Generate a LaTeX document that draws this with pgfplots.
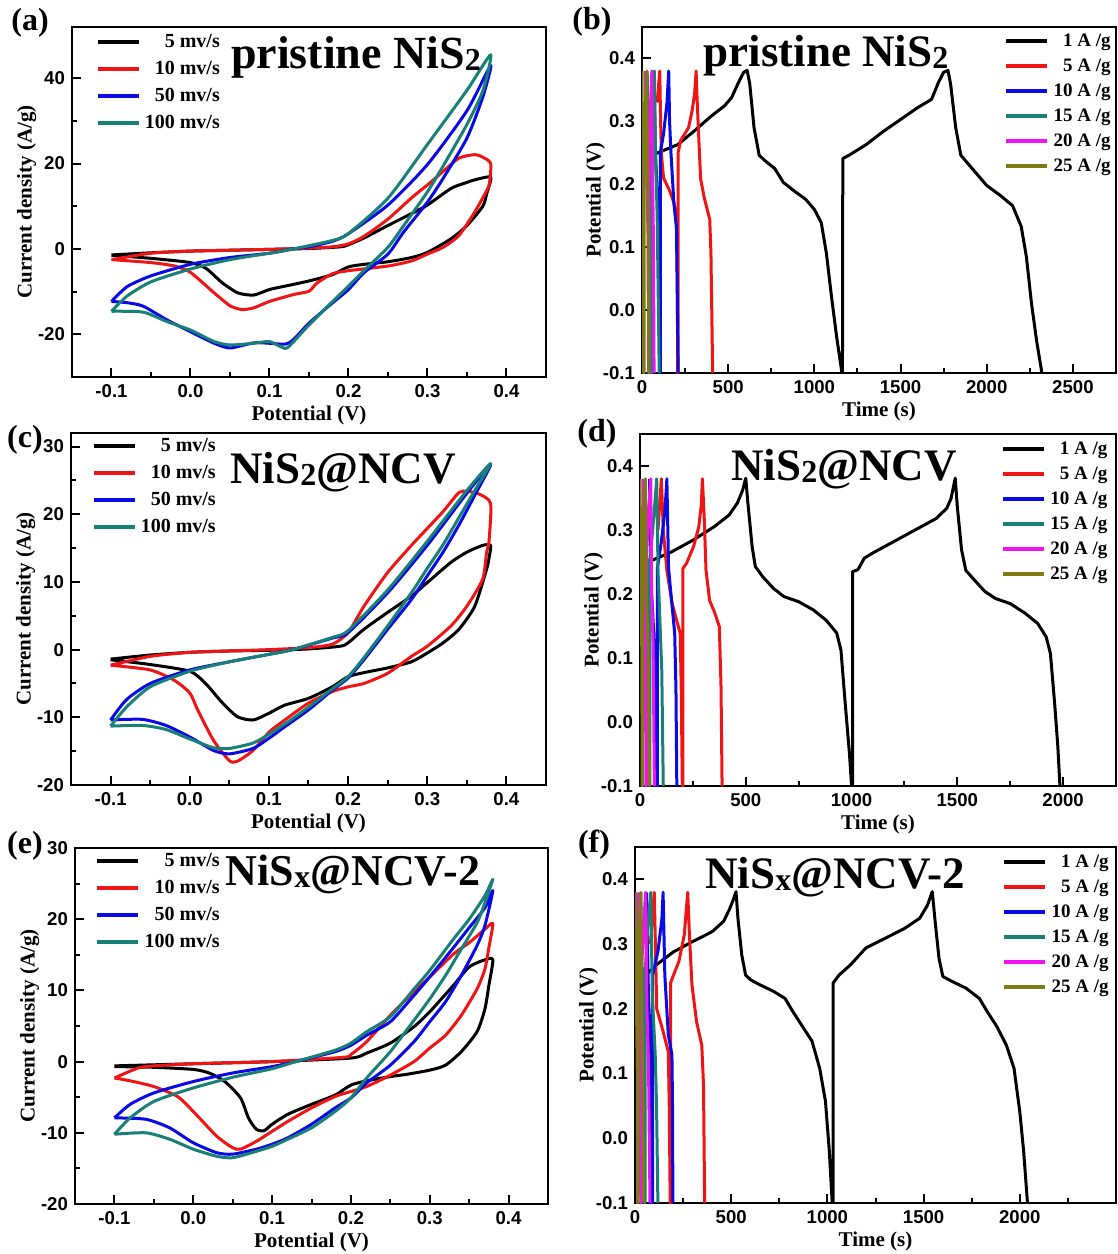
\documentclass[border=0pt]{standalone}
\usepackage{pgfplots}
\pgfplotsset{compat=1.18}
\usepackage{fontspec}
\setmainfont{Liberation Serif}
\newfontfamily\arial{Liberation Sans}
\definecolor{cR}{RGB}{240,20,20}
\definecolor{cB}{RGB}{10,10,230}
\definecolor{cT}{RGB}{25,128,120}
\definecolor{cM}{RGB}{240,20,240}
\definecolor{cO}{RGB}{128,122,20}
\pgfplotsset{
 base/.style={scale only axis, tick align=inside, tick pos=left,
   axis line style={line width=1.3pt}, major tick length=4.5pt, minor tick length=2.5pt,
   every tick/.append style={line width=1pt, black},
   tick label style={font=\arial\bfseries\fontsize{9.3}{10}\selectfont},
   label style={font=\bfseries\fontsize{10.5}{12}\selectfont},
   xlabel style={yshift=2.5pt},
   /pgf/number format/assume math mode=true,
   legend cell align=right,
   legend image code/.code={\draw[##1, line width=2.2pt] (0pt,0pt) -- (20.5pt,0pt);},
   every axis plot/.append style={line width=1.5pt, line join=round}},
 cv/.style={base, xmin=-0.15, xmax=0.45, xtick={-0.1,0,0.1,0.2,0.3,0.4}, minor x tick num=1,
   x tick label style={/pgf/number format/.cd, fixed, fixed zerofill, precision=1, /tikz/.cd},
   minor y tick num=1, xlabel={Potential (V)}, ylabel={Current density (A/g)},
   ylabel style={yshift=-6pt},
   every axis plot/.append style={smooth, tension=0.4},
   legend style={draw=none, fill=none, anchor=north west, font=\bfseries\fontsize{10}{12}\selectfont,
     inner sep=0pt, row sep=3pt, nodes={inner sep=0.5pt, text height=7.5pt, text depth=2pt},
     /tikz/every odd column/.append style={column sep=1.5pt}}},
 gcd/.style={base, xmin=0, ymin=-0.1, ymax=0.45, ytick={-0.1,0,0.1,0.2,0.3,0.4},
   y tick label style={/pgf/number format/.cd, fixed, fixed zerofill, precision=1, /tikz/.cd},
   x tick label style={/pgf/number format/.cd, 1000 sep={}, /tikz/.cd},
   xlabel={Time (s)}, ylabel={Potential (V)},
   ylabel style={yshift=-8pt},
   legend style={draw=none, fill=none, anchor=north east, font=\bfseries\fontsize{9.5}{11}\selectfont,
     inner sep=0pt, row sep=2pt, nodes={inner sep=0.5pt, text height=7.5pt, text depth=2pt},
     /tikz/every odd column/.append style={column sep=1.5pt}}}
}
\newcommand{\sub}[1]{\raisebox{-0.05em}{\fontsize{16}{16}\selectfont #1}}
\begin{document}
\begin{tikzpicture}
\path[use as bounding box] (0,0) rectangle (559pt,-627pt);
% ---------- (a)
\begin{axis}[cv, at={(36pt,-13.5pt)}, anchor=north west, width=237pt, height=175pt,
  ymin=-30, ymax=52, ytick={-20,0,20,40}, legend style={at={(0.0485,0.989)}}]
\addplot[black] coordinates {(-0.1,-1.4) (-0.05,-0.9) (0,-0.5) (0.05,-0.3) (0.1,-0.1) (0.15,0.1) (0.19,0.5) (0.2,1.0) (0.22,2.6) (0.25,5.5) (0.28,8.3) (0.3,10.3) (0.33,14.2) (0.35,15.6) (0.36,16.2) (0.38,16.8)
 (0.375,13) (0.37,10) (0.35,5.5) (0.33,2.4) (0.3,-0.8) (0.28,-2) (0.25,-3) (0.22,-3.6) (0.2,-4.2) (0.18,-6) (0.15,-7.5) (0.12,-8.7) (0.1,-9.5) (0.08,-10.8) (0.06,-10.3) (0.04,-7.9) (0.02,-4.6) (0,-3.2) (-0.05,-2.2) (-0.1,-1.5)};
\addplot[cR] coordinates {(-0.1,-2.5) (-0.05,-1.0) (0,-0.5) (0.05,-0.3) (0.1,-0.1) (0.15,0.2) (0.18,0.5) (0.2,1.2) (0.22,3) (0.25,7) (0.28,12) (0.3,15) (0.32,18.2) (0.34,21.3) (0.36,22.1) (0.37,21.5) (0.38,20)
 (0.378,15) (0.37,12) (0.36,8.7) (0.34,3.2) (0.32,0.4) (0.3,-1.2) (0.28,-2.8) (0.25,-4) (0.2,-5.1) (0.18,-5.8) (0.16,-8) (0.15,-9.9) (0.13,-10.7) (0.1,-12.3) (0.08,-13.8) (0.065,-14.2) (0.05,-13.3) (0.03,-10.3) (0,-5.5) (-0.02,-4) (-0.05,-3.2) (-0.1,-2.5)};
\addplot[cB] coordinates {(-0.1,-12.3) (-0.08,-8.8) (-0.05,-6.3) (0,-3.6) (0.05,-2) (0.1,-1) (0.13,0) (0.15,0.5) (0.18,1.8) (0.2,3.6) (0.25,10.3) (0.3,19.8) (0.35,32.4) (0.38,43)
 (0.37,35.6) (0.35,26) (0.32,16.6) (0.3,11) (0.27,4) (0.25,-1.2) (0.22,-5.5) (0.2,-9.5) (0.18,-12.6) (0.15,-17.4) (0.13,-21.3) (0.12,-22.3) (0.1,-22.1) (0.08,-22) (0.05,-23.2) (0.03,-22.1) (0,-19.4) (-0.03,-16.6) (-0.06,-13.4) (-0.08,-12.6) (-0.1,-12.3)};
\addplot[cT] coordinates {(-0.1,-14.6) (-0.08,-11) (-0.05,-7.7) (0,-4.7) (0.05,-2.5) (0.1,-1) (0.13,0) (0.18,2) (0.2,3.6) (0.25,11.9) (0.3,24.5) (0.35,37.2) (0.38,45.5)
 (0.37,37) (0.35,29.2) (0.32,19.5) (0.3,13.4) (0.27,5.5) (0.25,0.4) (0.22,-5) (0.2,-8.7) (0.18,-12.3) (0.15,-17.8) (0.13,-21.8) (0.12,-23.3) (0.1,-21.7) (0.08,-22.1) (0.05,-22.5) (0.03,-21.7) (0,-19) (-0.03,-17) (-0.06,-14.8) (-0.1,-14.6)};
\legend{5 mv/s,10 mv/s,50 mv/s,100 mv/s}
\end{axis}
% ---------- (b)
\begin{axis}[gcd, at={(321pt,-13.5pt)}, anchor=north west, width=237pt, height=173pt,
  xmax=2750, xtick={0,500,...,2500}, minor xtick={250,750,...,2750}, legend style={at={(0.9916,0.991)}}]
\addplot[black] coordinates {(83,0.249) (207,0.263) (300,0.284) (400,0.308) (480,0.325) (520,0.338) (560,0.362) (590,0.378) (610,0.381) (625,0.36) (650,0.29) (680,0.246) (720,0.236) (770,0.225) (820,0.203) (880,0.19) (950,0.176) (1000,0.16) (1040,0.139) (1070,0.09) (1100,0.02) (1130,-0.044) (1160,-0.1) (1163,-0.1) (1165,0.241) (1200,0.246) (1300,0.263) (1400,0.284) (1500,0.303) (1600,0.322) (1680,0.335) (1720,0.362) (1750,0.378) (1775,0.381) (1790,0.36) (1820,0.29) (1850,0.246) (1900,0.23) (1950,0.214) (2000,0.198) (2080,0.182) (2150,0.166) (2200,0.133) (2230,0.085) (2260,0.01) (2290,-0.05) (2320,-0.1)};
\addplot[cR] coordinates {(88,0.33) (103,0.38) (108,0.3) (112,0.25) (125,0.21) (160,0.19) (186,0.17) (200,0.145) (205,0.05) (207,-0.1) (209,-0.1) (209,0.25) (225,0.27) (270,0.29) (290,0.316) (305,0.343) (314,0.38) (320,0.333) (330,0.27) (340,0.209) (360,0.18) (393,0.144) (400,0.09) (410,-0.1)};
\addplot[cB] coordinates {(70,0.38) (78,0.25) (88,0.19) (98,0.15) (104,-0.1) (106,-0.1) (106,0.25) (125,0.28) (145,0.33) (155,0.38) (160,0.3) (168,0.25) (185,0.17) (200,0.13) (210,-0.1)};
\addplot[cT] coordinates {(30,0.38) (38,0.25) (48,0.15) (54,-0.1) (56,-0.1) (56,0.26) (65,0.32) (72,0.38) (78,0.25) (88,0.15) (100,-0.1)};
\addplot[cM] coordinates {(20,0.38) (27,0.22) (35,0.12) (38,-0.1) (40,-0.1) (40,0.26) (50,0.33) (57,0.38) (61,0.22) (66,0.12) (70,-0.1)};
\addplot[cO] coordinates {(0,0.38) (4,0.22) (8,0.12) (10,-0.1) (12,-0.1) (12,0.26) (20,0.33) (28,0.38) (32,0.22) (37,0.12) (40,-0.1)};
\legend{1 A /g,5 A /g,10 A /g,15 A /g,20 A /g,25 A /g}
\end{axis}
% ---------- (c)
\begin{axis}[cv, at={(35.5pt,-216.5pt)}, anchor=north west, width=237.5pt, height=176pt,
  ymin=-20, ymax=32, ytick={-20,-10,...,30}, legend style={at={(0.042,0.994)}}]
\addplot[black] coordinates {(-0.1,-1.4) (-0.05,-0.8) (0,-0.4) (0.05,-0.2) (0.1,-0.1) (0.15,0.1) (0.19,0.5) (0.2,1) (0.22,3) (0.25,5.5) (0.28,7.9) (0.3,9.9) (0.33,12.9) (0.35,14.4) (0.37,15.4) (0.38,15.4)
 (0.378,13.5) (0.375,11.9) (0.36,6.4) (0.34,3) (0.32,1) (0.3,-0.5) (0.28,-1.8) (0.25,-2.7) (0.22,-3.4) (0.2,-4) (0.18,-5.5) (0.15,-7.2) (0.12,-8.2) (0.1,-9.4) (0.08,-10.4) (0.06,-9.9) (0.04,-7.7) (0.02,-5) (0,-3.2) (-0.05,-2.2) (-0.1,-1.5)};
\addplot[cR] coordinates {(-0.1,-2.3) (-0.05,-1) (0,-0.4) (0.05,-0.2) (0.1,0) (0.15,0.3) (0.18,0.8) (0.2,2.5) (0.22,6.4) (0.25,11.4) (0.28,15.4) (0.3,17.9) (0.32,20.4) (0.34,23.2) (0.35,23.4) (0.365,23) (0.38,21.6)
 (0.378,16) (0.375,14.4) (0.37,10.4) (0.35,6.4) (0.33,3.5) (0.3,0.5) (0.28,-1) (0.25,-3.5) (0.22,-5) (0.2,-5.5) (0.18,-6.2) (0.15,-7.9) (0.12,-10.4) (0.1,-12.2) (0.08,-14.9) (0.06,-16.5) (0.05,-16.4) (0.03,-13.4) (0.01,-8.9) (0,-6.4) (-0.02,-4.5) (-0.05,-3) (-0.1,-2.3)};
\addplot[cB] coordinates {(-0.1,-10.4) (-0.08,-7.4) (-0.05,-5) (0,-3) (0.05,-1.8) (0.1,-0.7) (0.13,0) (0.18,1.7) (0.2,2.5) (0.25,8.4) (0.3,15.4) (0.35,23.1) (0.38,27.3)
 (0.36,22.8) (0.34,18.4) (0.32,14.4) (0.3,10.9) (0.28,7.4) (0.25,3) (0.22,-1.5) (0.2,-4.2) (0.18,-6) (0.15,-8.9) (0.12,-11.4) (0.1,-13.1) (0.08,-14.6) (0.05,-15.4) (0.03,-14.9) (0,-12.9) (-0.03,-11.2) (-0.06,-10.3) (-0.1,-10.4)};
\addplot[cT] coordinates {(-0.1,-11.3) (-0.08,-8.5) (-0.05,-5.5) (0,-3.2) (0.05,-1.8) (0.1,-0.7) (0.13,0) (0.18,1.8) (0.2,2.8) (0.25,8.8) (0.3,16) (0.35,23.5) (0.38,27.5)
 (0.36,23.5) (0.34,19.5) (0.32,15.5) (0.3,12) (0.28,8.4) (0.25,3.5) (0.22,-1.2) (0.2,-4) (0.18,-5.8) (0.15,-8.5) (0.12,-11) (0.1,-12.5) (0.08,-13.8) (0.05,-14.6) (0.03,-14.5) (0,-13.2) (-0.03,-11.8) (-0.06,-11.2) (-0.1,-11.3)};
\legend{5 mv/s,10 mv/s,50 mv/s,100 mv/s}
\end{axis}
% ---------- (d)
\begin{axis}[gcd, at={(320pt,-217pt)}, anchor=north west, width=238pt, height=176pt,
  xmax=2250, xtick={0,500,...,2000}, minor xtick={250,750,...,2250}, legend style={at={(0.985,0.989)}}]
\addplot[black] coordinates {(60,0.253) (150,0.266) (250,0.284) (350,0.305) (420,0.323) (460,0.342) (485,0.362) (500,0.381) (510,0.342) (530,0.274) (545,0.243) (580,0.227) (630,0.209) (680,0.196) (750,0.188) (820,0.175) (880,0.159) (930,0.139) (950,0.112) (970,0.029) (990,-0.049) (1000,-0.1) (1005,-0.1) (1005,0.235) (1030,0.238) (1060,0.256) (1100,0.264) (1200,0.282) (1300,0.3) (1400,0.318) (1450,0.334) (1470,0.349) (1490,0.381) (1500,0.336) (1520,0.269) (1540,0.237) (1580,0.222) (1630,0.204) (1680,0.193) (1750,0.185) (1820,0.17) (1880,0.154) (1920,0.133) (1940,0.107) (1960,0.029) (1975,-0.038) (1985,-0.1)};
\addplot[cR] coordinates {(85,0.3) (101,0.38) (110,0.3) (127,0.237) (152,0.185) (177,0.154) (190,0.139) (195,0.05) (200,-0.1) (203,-0.1) (203,0.24) (220,0.248) (253,0.274) (278,0.305) (290,0.34) (295,0.38) (304,0.316) (312,0.237) (329,0.19) (354,0.17) (375,0.149) (383,0.055) (388,-0.1)};
\addplot[cB] coordinates {(45,0.38) (55,0.2) (65,0.14) (75,0.05) (80,-0.1) (82,-0.1) (82,0.24) (100,0.28) (118,0.33) (127,0.38) (135,0.24) (152,0.18) (164,0.139) (170,0.05) (174,-0.1)};
\addplot[cT] coordinates {(25,0.38) (35,0.2) (42,0.1) (45,-0.1) (47,-0.1) (47,0.25) (65,0.32) (79,0.38) (85,0.24) (95,0.15) (103,0.08) (110,-0.1)};
\addplot[cM] coordinates {(15,0.38) (20,0.2) (26,0.1) (28,-0.1) (30,-0.1) (30,0.25) (40,0.33) (51,0.38) (55,0.2) (62,0.12) (68,-0.1)};
\addplot[cO] coordinates {(0,0.38) (5,0.2) (9,0.1) (10,-0.1) (12,-0.1) (12,0.25) (18,0.33) (25,0.38) (30,0.2) (38,0.12) (45,-0.1)};
\legend{1 A /g,5 A /g,10 A /g,15 A /g,20 A /g,25 A /g}
\end{axis}
% ---------- (e)
\begin{axis}[cv, at={(37.5pt,-424pt)}, anchor=north west, width=236.5pt, height=178pt,
  ymin=-20, ymax=30, ytick={-20,-10,...,30}, legend style={at={(0.042,0.994)}}]
\addplot[black] coordinates {(-0.1,-0.6) (0,-0.3) (0.1,0) (0.2,0.5) (0.22,1.2) (0.25,2.6) (0.28,4.9) (0.3,7) (0.33,10.7) (0.35,13.3) (0.37,14.3) (0.38,14.3)
 (0.375,10.7) (0.37,7.4) (0.36,4.2) (0.34,1.4) (0.32,-0.5) (0.3,-1.2) (0.27,-1.8) (0.25,-2.1) (0.22,-2.7) (0.2,-3.3) (0.18,-4.7) (0.15,-6) (0.12,-7.4) (0.1,-8.8) (0.09,-9.7) (0.08,-9.5) (0.07,-7.9) (0.06,-5.1) (0.04,-2.8) (0.02,-1.6) (0,-1.1) (-0.05,-0.8) (-0.1,-0.7)};
\addplot[cR] coordinates {(-0.1,-2.3) (-0.07,-0.9) (-0.05,-0.6) (0,-0.3) (0.1,0) (0.19,0.6) (0.2,1) (0.22,2.8) (0.25,6.5) (0.28,9.8) (0.3,11.9) (0.33,15.1) (0.35,16.7) (0.37,18.6) (0.38,19.4)
 (0.375,16) (0.37,13) (0.36,10.2) (0.34,6.5) (0.32,3.7) (0.3,1.9) (0.28,0) (0.25,-1.9) (0.22,-3.5) (0.2,-4.2) (0.18,-4.9) (0.15,-6.5) (0.12,-8.4) (0.1,-9.8) (0.08,-11.2) (0.06,-12.3) (0.05,-12.1) (0.03,-10.5) (0,-7) (-0.02,-4.9) (-0.05,-3.5) (-0.08,-2.7) (-0.1,-2.3)};
\addplot[cB] coordinates {(-0.1,-7.9) (-0.08,-6) (-0.05,-4.4) (0,-2.8) (0.05,-1.6) (0.1,-0.7) (0.13,0) (0.18,1.4) (0.2,2.3) (0.22,3.7) (0.25,5.6) (0.28,9.3) (0.3,11.9) (0.33,16) (0.35,18.8) (0.37,21.6) (0.38,24)
 (0.37,19.1) (0.36,16.3) (0.34,12.1) (0.32,8.4) (0.3,5.6) (0.28,2.8) (0.25,-0.5) (0.22,-3) (0.2,-5.1) (0.18,-6.5) (0.15,-8.8) (0.12,-10.7) (0.1,-11.6) (0.08,-12.3) (0.05,-13) (0.03,-12.8) (0,-11.4) (-0.03,-9.3) (-0.06,-8.1) (-0.1,-7.9)};
\addplot[cT] coordinates {(-0.1,-10.2) (-0.08,-7.9) (-0.05,-5.6) (0,-3.7) (0.05,-2.2) (0.1,-1) (0.13,0) (0.18,1.6) (0.2,2.6) (0.22,4.2) (0.25,6.3) (0.28,10.2) (0.3,12.8) (0.33,17.2) (0.35,20) (0.37,23.3) (0.38,25.6)
 (0.37,22.3) (0.36,19.5) (0.34,15.8) (0.32,12.1) (0.3,8.8) (0.28,5.8) (0.25,1.4) (0.22,-2.3) (0.2,-5.1) (0.18,-7) (0.15,-9.3) (0.12,-10.9) (0.1,-11.9) (0.08,-12.6) (0.05,-13.5) (0.03,-13.3) (0,-12.3) (-0.03,-10.9) (-0.06,-10) (-0.1,-10.2)};
\legend{5 mv/s,10 mv/s,50 mv/s,100 mv/s}
\end{axis}
% ---------- (f)
\begin{axis}[gcd, at={(317.5pt,-423.5pt)}, anchor=north west, width=240.5pt, height=178pt,
  xmax=2500, xtick={0,500,...,2000}, minor xtick={250,750,...,2250}, legend style={at={(0.9875,0.988)}}]
\addplot[black] coordinates {(64,0.255) (120,0.27) (200,0.288) (300,0.304) (400,0.319) (460,0.335) (490,0.353) (510,0.368) (525,0.381) (535,0.34) (555,0.283) (575,0.252) (600,0.245) (650,0.237) (720,0.227) (780,0.216) (820,0.196) (870,0.173) (920,0.15) (960,0.108) (990,0.057) (1010,-0.02) (1025,-0.1) (1030,-0.1) (1030,0.24) (1060,0.252) (1120,0.268) (1200,0.294) (1300,0.309) (1400,0.324) (1480,0.34) (1520,0.36) (1545,0.381) (1560,0.335) (1580,0.278) (1600,0.25) (1650,0.242) (1720,0.232) (1790,0.216) (1830,0.196) (1880,0.173) (1930,0.144) (1970,0.108) (2000,0.041) (2020,-0.02) (2040,-0.1)};
\addplot[cR] coordinates {(80,0.3) (100,0.38) (106,0.3) (113,0.2) (146,0.165) (173,0.134) (178,0.05) (183,-0.1) (185,-0.1) (185,0.24) (200,0.252) (228,0.273) (256,0.314) (274,0.38) (283,0.314) (296,0.237) (320,0.18) (347,0.144) (356,0.083) (362,-0.1)};
\addplot[cB] coordinates {(60,0.38) (70,0.22) (80,0.15) (88,-0.1) (91,-0.1) (91,0.25) (120,0.29) (140,0.34) (146,0.38) (155,0.252) (173,0.16) (192,0.129) (195,0.05) (197,-0.1)};
\addplot[cT] coordinates {(30,0.38) (40,0.2) (47,0.1) (50,-0.1) (52,-0.1) (52,0.25) (65,0.32) (82,0.38) (90,0.22) (105,0.13) (112,0.05) (119,-0.1)};
\addplot[cM] coordinates {(15,0.38) (22,0.2) (28,0.1) (30,-0.1) (32,-0.1) (32,0.25) (45,0.33) (55,0.38) (62,0.2) (70,0.12) (78,-0.1)};
\addplot[cO] coordinates {(2,0.38) (8,0.2) (12,0.1) (14,-0.1) (16,-0.1) (16,0.25) (22,0.33) (30,0.38) (35,0.2) (40,0.12) (45,-0.1)};
\legend{1 A /g,5 A /g,10 A /g,15 A /g,20 A /g,25 A /g}
\end{axis}
% ---------- titles and panel letters
\begin{scope}[every node/.style={font=\bfseries\fontsize{22.5}{25}\selectfont, anchor=base, inner sep=0pt}]
\node[font=\bfseries\fontsize{23}{26}\selectfont] at (178pt,-34pt) {pristine NiS\sub{2}};
\node at (413pt,-33pt) {pristine NiS\sub{2}};
\node at (171.5pt,-241.5pt) {NiS\sub{2}@NCV};
\node at (422pt,-240pt) {NiS\sub{2}@NCV};
\node[font=\bfseries\fontsize{22}{25}\selectfont] at (176.5pt,-442.5pt) {NiS\sub{x}@NCV-2};
\node at (417.5pt,-444pt) {NiS\sub{x}@NCV-2};
\end{scope}
\begin{scope}[every node/.style={font=\bfseries\fontsize{16}{18}\selectfont, inner sep=0pt}]
\node at (15pt,-11.5pt) {(a)};
\node at (296pt,-11pt) {(b)};
\node at (12.5pt,-220pt) {(c)};
\node at (298.5pt,-217pt) {(d)};
\node at (12.5pt,-423pt) {(e)};
\node at (297pt,-422.5pt) {(f)};
\end{scope}
\end{tikzpicture}
\end{document}
